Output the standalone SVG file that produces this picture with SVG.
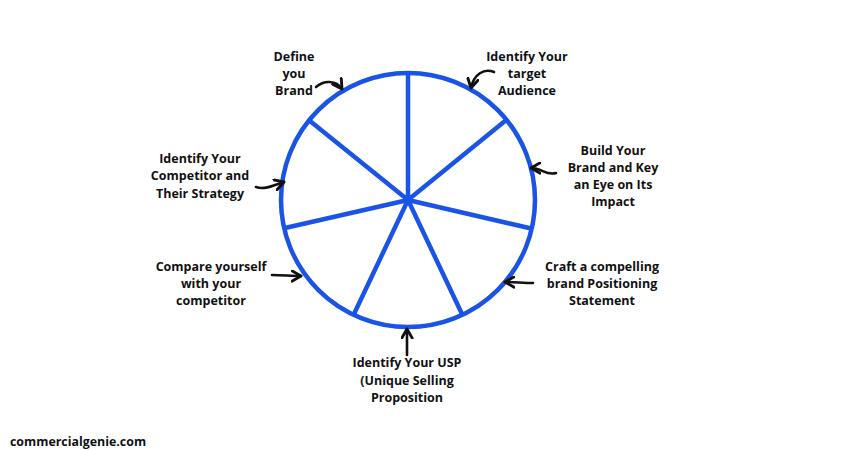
<svg xmlns="http://www.w3.org/2000/svg" width="850" height="450" viewBox="0 0 850 450">
<defs>
<marker id="ah" viewBox="0 0 10 10" refX="8" refY="5" markerWidth="5" markerHeight="5" orient="auto" markerUnits="strokeWidth">
<path d="M1,1 L8,5 L1,9" fill="none" stroke="#111" stroke-width="2.2" stroke-linecap="round" stroke-linejoin="round"/>
</marker>
</defs>
<style>
.lbl{font-family:"Open Sans","Liberation Sans",sans-serif;font-weight:700;font-size:12.5px;fill:#111;text-anchor:middle}
.wm{font-family:"Open Sans","Liberation Sans",sans-serif;font-weight:700;font-size:12.4px;fill:#111}
.wheel{fill:none;stroke:#1a53e8;stroke-width:4.5;stroke-linecap:round}
.arr{fill:none;stroke:#111;stroke-width:2.6;stroke-linecap:round;marker-end:url(#ah)}
</style>
<rect width="850" height="450" fill="#fff"/>
<g id="wheel">
<circle class="wheel" cx="408" cy="200" r="127"/>
<path class="wheel" d="M408,200 L408,73 M408,200 L505,121 M408,200 L529,228 M408,200 L462,314 M408,200 L354,314 M408,200 L285,228 M408,200 L310,121"/>
</g>
<g id="connectors">
<path class="arr" d="M316,87 C324,80 336,80 342,89"/>
<path class="arr" d="M494,72 C484,68 474,74 471,88"/>
<path class="arr" d="M556,173 C546,176 542,168 531,168"/>
<path class="arr" d="M256,187 C264,190 272,186 284,182"/>
<path class="arr" d="M272,275 C282,275 292,276 301,276"/>
<path class="arr" d="M533,283 C524,283 514,282 505,282"/>
<path class="arr" d="M407,355 C407,346 407,338 407,329"/>
</g>
<g id="n-define"><text class="lbl"><tspan x="294" y="61">Define</tspan><tspan x="294" y="78">you</tspan><tspan x="294" y="95">Brand</tspan></text></g>
<g id="n-audience"><text class="lbl"><tspan x="527" y="61">Identify Your</tspan><tspan x="527" y="78">target</tspan><tspan x="527" y="95">Audience</tspan></text></g>
<g id="n-build"><text class="lbl"><tspan x="613" y="155">Build Your</tspan><tspan x="613" y="172">Brand and Key</tspan><tspan x="613" y="189">an Eye on Its</tspan><tspan x="613" y="206">Impact</tspan></text></g>
<g id="n-competitor"><text class="lbl"><tspan x="200" y="163">Identify Your</tspan><tspan x="200" y="180">Competitor and</tspan><tspan x="200" y="198">Their Strategy</tspan></text></g>
<g id="n-compare"><text class="lbl"><tspan x="211" y="271">Compare yourself</tspan><tspan x="211" y="288">with your</tspan><tspan x="211" y="305">competitor</tspan></text></g>
<g id="n-craft"><text class="lbl"><tspan x="602" y="271">Craft a compelling</tspan><tspan x="602" y="288">brand Positioning</tspan><tspan x="602" y="305">Statement</tspan></text></g>
<g id="n-usp"><text class="lbl"><tspan x="407" y="367">Identify Your USP</tspan><tspan x="407" y="385">(Unique Selling</tspan><tspan x="407" y="402">Proposition</tspan></text></g>
<text class="wm" x="10" y="446">commercialgenie.com</text>
</svg>
